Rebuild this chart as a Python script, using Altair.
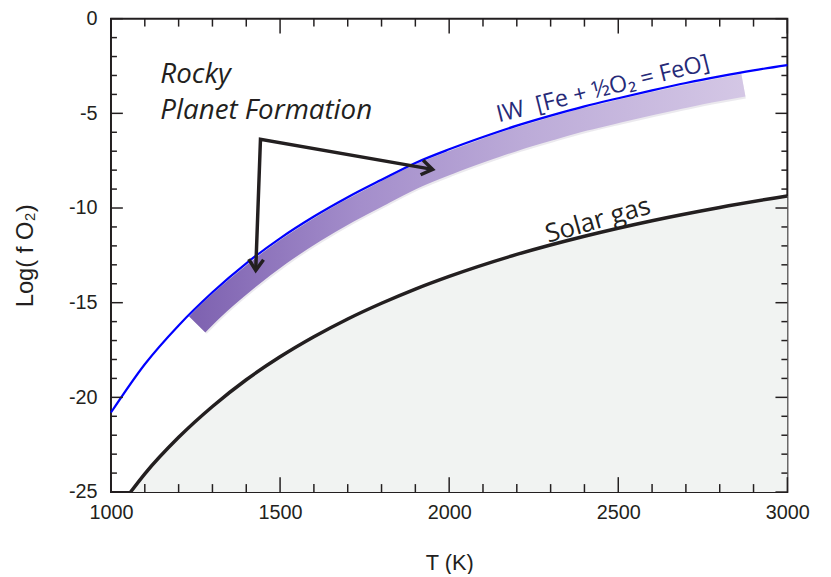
import altair as alt
import pandas as pd

# ---- data ----
# IW buffer (Fe + 1/2 O2 = FeO)
iw_T = [1000, 1100, 1200, 1300, 1400, 1500, 1600, 1700, 1800, 1900, 2000,
        2100, 2200, 2300, 2400, 2500, 2600, 2700, 2800, 2900, 3000]
iw_logfo2 = [-20.8, -18.25, -16.2, -14.45, -12.92, -11.6, -10.45, -9.43, -8.51, -7.62, -6.9,
             -6.25, -5.65, -5.12, -4.63, -4.2, -3.79, -3.4, -3.05, -2.73, -2.45]

# Solar gas curve
solar_T = [1058, 1100, 1200, 1300, 1400, 1500, 1600, 1700, 1800, 1900, 2000,
           2200, 2400, 2600, 2800, 3000]
solar_logfo2 = [-25.0, -24.04, -22.11, -20.48, -19.07, -17.86, -16.8, -15.86, -15.03, -14.28, -13.61,
                -12.45, -11.49, -10.67, -9.97, -9.36]

# Rocky planet formation band (centre line)
band_T = [1255, 1300, 1400, 1500, 1600, 1700, 1800, 1900, 2000, 2100, 2200,
          2300, 2400, 2500, 2600, 2700, 2800, 2870]
band_logfo2 = [-16.15, -15.35, -13.8, -12.43, -11.25, -10.2, -9.26, -8.36, -7.63, -6.97, -6.36,
               -5.83, -5.33, -4.9, -4.49, -4.1, -3.75, -3.52]

# Arrows: tip 1 -> common origin -> tip 2
arrow_T = [1428, 1442, 1951]
arrow_logfo2 = [-13.29, -6.37, -7.96]
arrow_order = [0, 1, 2]

# Ticks
x_major = [1000, 1500, 2000, 2500, 3000]
x_minor = [t for t in range(1100, 3000, 100) if t % 500 != 0]
y_major = [-25, -20, -15, -10, -5, 0]
y_minor = [v for v in range(-24, 0) if v % 5 != 0]

# Annotation texts
rocky_text = ["Rocky", "Planet Formation"]
rocky_T = [1146, 1146]
rocky_logfo2 = [-3.42, -5.32]
iw_label = "IW\u00a0\u00a0[Fe + ½O₂ = FeO]"
iw_label_T = 2455
iw_label_logfo2 = -3.72
solar_label = "Solar gas"
solar_label_T = 2440
solar_label_logfo2 = -10.65

# ---- chart ----
W, H = 683, 478
INK = "#231f20"
xs = alt.Scale(domain=[1000, 3000], nice=False, zero=False)
ys = alt.Scale(domain=[-25, 0], nice=False, zero=False)

iw_df = pd.DataFrame({"T": iw_T, "v": iw_logfo2})
solar_df = pd.DataFrame({"T": solar_T, "v": solar_logfo2})
band_df = pd.DataFrame({"T": band_T, "v": band_logfo2})
arrow_df = pd.DataFrame({"T": arrow_T, "v": arrow_logfo2, "o": arrow_order})

x_axis = alt.Axis(values=x_major, title="T (K)", ticks=False, domain=False, grid=False,
                  labelFont="Liberation Sans", labelFontSize=20, labelColor=INK, labelPadding=11,
                  labelFlush=False, labelOverlap=False, labelExpr="'' + datum.value",
                  titleFont="Liberation Sans", titleFontSize=22, titleFontWeight="normal", titleColor=INK,
                  titleX=W / 2, titleY=71, titleBaseline="middle", titleAlign="center")
y_axis = alt.Axis(values=y_major, title="Log( f O₂)", ticks=False, domain=False, grid=False,
                  labelFont="Liberation Sans", labelFontSize=20, labelColor=INK, labelPadding=14,
                  labelFlush=False, labelOverlap=False, labelExpr="'' + datum.value",
                  titleFont="Liberation Sans", titleFontSize=24, titleFontWeight="normal", titleColor=INK,
                  titleX=-86, titleY=H / 2, titleAngle=270, titleBaseline="middle", titleAlign="center")

X = alt.X("T:Q", scale=xs, axis=x_axis)
Y = alt.Y("v:Q", scale=ys, axis=y_axis)

area = alt.Chart(solar_df).mark_area(color="#f1f3f2", interpolate="monotone").encode(
    x=X, y=Y, y2=alt.datum(-25))
solar_line = alt.Chart(solar_df).mark_line(color=INK, strokeWidth=3.5, interpolate="monotone").encode(
    x=X, y=Y)

band_shadow = alt.Chart(band_df).mark_line(color="#5a4a70", strokeWidth=27, opacity=0.12,
                                           strokeCap="butt", interpolate="monotone").encode(x=X, y=Y)
band = alt.Chart(band_df).mark_line(
    strokeWidth=23, strokeCap="butt", interpolate="monotone",
    stroke=alt.LinearGradient(gradient="linear", x1=0, y1=0, x2=1, y2=0, stops=[
        alt.GradientStop(color="#7f63b1", offset=0),
        alt.GradientStop(color="#a48ecb", offset=0.3),
        alt.GradientStop(color="#bcabd8", offset=0.6),
        alt.GradientStop(color="#d4c7e5", offset=1),
    ])).encode(x=X, y=Y)

iw_line = alt.Chart(iw_df).mark_line(color="#0000ff", strokeWidth=2.2, interpolate="monotone").encode(
    x=X, y=Y)

arrow_line = alt.Chart(arrow_df).mark_line(color=INK, strokeWidth=3.5, strokeJoin="miter").encode(
    x=X, y=Y, order="o:Q")

chevron = "M -1 -0.68 L 0 0 L -1 0.68"
head1 = alt.Chart(arrow_df.iloc[[0]]).mark_point(
    shape=chevron, filled=False, color=INK, strokeWidth=3.5, size=484, opacity=1).encode(
    x=X, y=Y, angle=alt.value(92))
head2 = alt.Chart(arrow_df.iloc[[2]]).mark_point(
    shape=chevron, filled=False, color=INK, strokeWidth=3.5, size=484, opacity=1).encode(
    x=X, y=Y, angle=alt.value(10))

rocky_df = pd.DataFrame({"T": rocky_T, "v": rocky_logfo2, "t": rocky_text})
rocky = alt.Chart(rocky_df).mark_text(
    font="Open Sans", fontStyle="italic", fontSize=28, color=INK, align="left", baseline="alphabetic").encode(
    x=X, y=Y, text="t:N")

iw_text = alt.Chart(pd.DataFrame({"T": [iw_label_T], "v": [iw_label_logfo2], "t": [iw_label]})).mark_text(
    font="Open Sans", fontSize=23.5, color="#262a78", angle=346, align="center", baseline="middle").encode(
    x=X, y=Y, text="t:N")

solar_text = alt.Chart(pd.DataFrame({"T": [solar_label_T], "v": [solar_label_logfo2], "t": [solar_label]})).mark_text(
    font="Open Sans", fontSize=26, color=INK, angle=344, align="center", baseline="middle").encode(
    x=X, y=Y, text="t:N")

def yticks(vals, length):
    d = pd.DataFrame({"v": vals})
    left = alt.Chart(d).mark_rule(color=INK, strokeWidth=1.5).encode(
        y=Y, x=alt.value(0), x2=alt.value(length))
    right = alt.Chart(d).mark_rule(color=INK, strokeWidth=1.5).encode(
        y=Y, x=alt.value(W), x2=alt.value(W - length))
    return [left, right]

def xticks(vals, length):
    d = pd.DataFrame({"T": vals})
    bottom = alt.Chart(d).mark_rule(color=INK, strokeWidth=1.5).encode(
        x=X, y=alt.value(H), y2=alt.value(H - length))
    top = alt.Chart(d).mark_rule(color=INK, strokeWidth=1.5).encode(
        x=X, y=alt.value(0), y2=alt.value(length))
    return [bottom, top]

ticks = yticks(y_major, 12) + yticks(y_minor, 6) + xticks(x_major, 15) + xticks(x_minor, 8)

chart = alt.layer(
    area, solar_line, band_shadow, band, iw_line, arrow_line, head1, head2,
    rocky, iw_text, solar_text, *ticks
).properties(
    width=W, height=H,
    autosize=alt.AutoSizeParams(type="none"),
    padding={"left": 104, "top": 8, "right": 36, "bottom": 80},
    background="white",
).configure_view(stroke=INK, strokeWidth=2)

chart.save("out.html", embed_options={"renderer": "svg", "actions": False})
